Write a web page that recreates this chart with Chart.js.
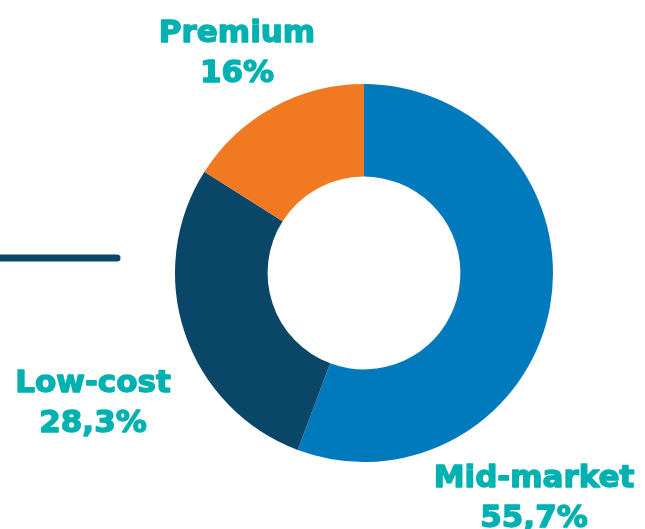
<!DOCTYPE html>
<html>
<head>
<meta charset="utf-8">
<script src="https://cdn.jsdelivr.net/npm/chart.js@4"></script>
<style>
  html, body { margin: 0; padding: 0; background: #fff; }
  #wrap { width: 645px; height: 529px; position: relative; }
</style>
</head>
<body>
<div id="wrap"><canvas id="chart"></canvas></div>
<script>
const segments = ["Mid-market", "Low-cost", "Premium"];
const shares = [55.7, 28.3, 16];
const shareLabels = ["55,7%", "28,3%", "16%"];
const colors = ["#0079BD", "#0A4667", "#F07922"];

const TEAL = "#00B1B1";
const FONT = "bold 31px 'DejaVu Sans'";

// label anchors, offsets from the doughnut centre (x centre, first baseline)
const labelPos = [
  { dx: 170, dy: 214 },
  { dx: -271, dy: 119 },
  { dx: -127, dy: -231 }
];

const labelsPlugin = {
  id: "labels",
  afterDraw(chart) {
    const ctx = chart.ctx;
    const arc = chart.getDatasetMeta(0).data[0];
    const cx = arc.x, cy = arc.y;

    // dark bar on the left
    ctx.save();
    ctx.strokeStyle = "#0A4667";
    ctx.lineWidth = 7;
    ctx.lineCap = "round";
    ctx.beginPath();
    ctx.moveTo(-10, cy - 15);
    ctx.lineTo(cx - 247, cy - 15);
    ctx.stroke();

    // heavier text: fill plus a thin stroke in the same colour
    ctx.fillStyle = TEAL;
    ctx.strokeStyle = TEAL;
    ctx.lineWidth = 1.4;
    ctx.lineJoin = "round";
    ctx.font = FONT;
    ctx.textAlign = "center";
    ctx.textBaseline = "alphabetic";
    segments.forEach((name, i) => {
      const p = labelPos[i];
      const x = cx + p.dx, y = cy + p.dy;
      ctx.fillText(name, x, y);
      ctx.strokeText(name, x, y);
      ctx.fillText(shareLabels[i], x, y + 40);
      ctx.strokeText(shareLabels[i], x, y + 40);
    });
    ctx.restore();
  }
};

new Chart(document.getElementById("chart"), {
  type: "doughnut",
  data: {
    labels: segments,
    datasets: [{
      data: shares,
      backgroundColor: colors,
      borderWidth: 0
    }]
  },
  options: {
    responsive: true,
    maintainAspectRatio: false,
    animation: false,
    cutout: "51%",
    layout: { padding: { left: 175, right: 92, top: 84, bottom: 67 } },
    plugins: {
      legend: { display: false },
      tooltip: { enabled: false }
    }
  },
  plugins: [labelsPlugin]
});
</script>
</body>
</html>
